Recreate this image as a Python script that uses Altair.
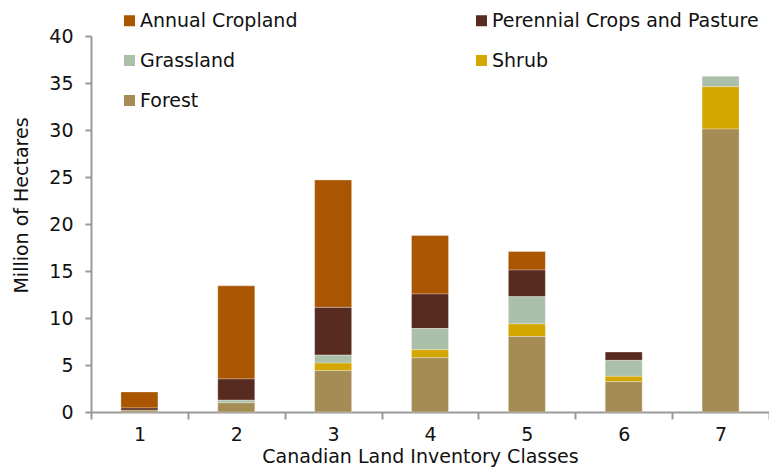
import altair as alt
import pandas as pd

classes = ["1", "2", "3", "4", "5", "6", "7"]
series_names = ["Annual Cropland", "Perennial Crops and Pasture", "Grassland", "Shrub", "Forest"]
colors = ["#AA5500", "#582B20", "#AAC0A8", "#D4A600", "#A58C54"]
# legend is filled column by column: this order shows the entries row by row as in the reference
legend_order = ["Annual Cropland", "Grassland", "Forest", "Perennial Crops and Pasture", "Shrub"]

forest = [0.18, 0.97, 4.4, 5.77, 8.03, 3.23, 30.1]
shrub = [0, 0, 0.8, 0.85, 1.34, 0.56, 4.5]
grassland = [0, 0.28, 0.85, 2.26, 2.9, 1.7, 1.13]
perennial = [0.25, 2.27, 5.08, 3.67, 2.83, 0.89, 0]
annual = [1.7, 9.9, 13.56, 6.22, 1.97, 0, 0]

stack_order = {"Forest": 0, "Shrub": 1, "Grassland": 2, "Perennial Crops and Pasture": 3, "Annual Cropland": 4}
series_values = {
    "Annual Cropland": annual,
    "Perennial Crops and Pasture": perennial,
    "Grassland": grassland,
    "Shrub": shrub,
    "Forest": forest,
}
color_of = dict(zip(series_names, colors))

rows = []
for i, c in enumerate(classes):
    for name in series_names:
        v = series_values[name][i]
        if v > 0:
            rows.append({"cls": c, "series": name, "value": v, "ord": stack_order[name]})
df = pd.DataFrame(rows)

FONT = "DejaVu Sans"

chart = alt.Chart(df).mark_bar(size=37, stroke="#ffffff", strokeWidth=0.6, strokeOpacity=0.5).encode(
    x=alt.X(
        "cls:N",
        sort=classes,
        scale=alt.Scale(paddingInner=0, paddingOuter=0),
        axis=alt.Axis(
            title="Canadian Land Inventory Classes",
            labelAngle=0,
            tickBand="extent",
            domainColor="#999999",
            domainWidth=2,
            tickColor="#999999",
            tickWidth=2,
            tickSize=7,
            labelPadding=6,
            labelFont=FONT,
            labelFontSize=19,
            labelColor="#111111",
            titleFont=FONT,
            titleFontSize=19,
            titleFontWeight="normal",
            titleColor="#111111",
            titlePadding=3,
            titleX=329,
        ),
    ),
    y=alt.Y(
        "value:Q",
        stack="zero",
        scale=alt.Scale(domain=[0, 40]),
        axis=alt.Axis(
            title="Million of Hectares",
            values=list(range(0, 41, 5)),
            grid=False,
            domainColor="#999999",
            domainWidth=2,
            tickColor="#999999",
            tickWidth=2,
            tickSize=6,
            labelPadding=12,
            labelFont=FONT,
            labelFontSize=19,
            labelColor="#111111",
            titleFont=FONT,
            titleFontSize=19,
            titleFontWeight="normal",
            titleColor="#111111",
            titlePadding=17,
            titleY=169,
        ),
    ),
    color=alt.Color(
        "series:N",
        scale=alt.Scale(domain=legend_order, range=[color_of[n] for n in legend_order]),
        legend=alt.Legend(
            title=None,
            orient="none",
            legendX=29,
            legendY=-25,
            columns=2,
            columnPadding=174,
            rowPadding=20,
            symbolType="square",
            symbolSize=121,
            symbolStrokeWidth=0,
            labelFont=FONT,
            labelFontSize=19,
            labelColor="#111111",
            labelLimit=400,
            labelOffset=1,
            padding=0,
        ),
    ),
    order=alt.Order("ord:Q"),
).properties(
    width=678,
    height=376,
    autosize=alt.AutoSizeParams(type="none"),
    padding={"left": 83, "top": 28, "right": 0, "bottom": 56},
).configure_view(stroke=None)

chart.save("out.html", embed_options={"renderer": "svg", "actions": False})
